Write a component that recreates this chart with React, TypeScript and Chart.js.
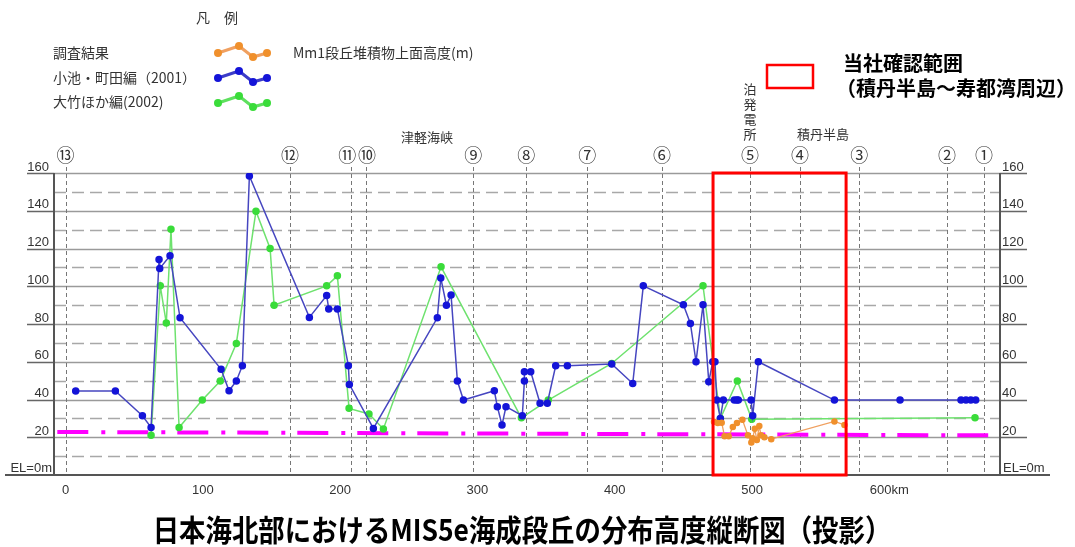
import React, { useEffect, useRef } from "react";
import { Chart, registerables } from "chart.js";
Chart.register(...registerables);

// ---- axis ranges / ticks ----
const kmMin = -8.4;
const kmMax = 680.6;
const elevMin = 0;
const elevMax = 160;
const kmTicks = [0, 100, 200, 300, 400, 500, 600];
const kmTickLabels = ["0", "100", "200", "300", "400", "500", "600km"];
const elevMajor = [20, 40, 60, 80, 100, 120, 140, 160];
const elevMinor = [10, 30, 50, 70, 90, 110, 130, 150];

// ---- sections ----
const sectionKm = [0, 163.5, 208, 218.6, 297, 335.5, 380, 434.5, 498.5, 535, 578, 642, 669];
const sectionLabelKm = [0, 163.5, 205.2, 219.5, 297, 335.5, 380, 434.5, 498.5, 535, 578, 642, 669];
const sectionLabels = ["⑬", "⑫", "⑪", "⑩", "⑨", "⑧", "⑦", "⑥", "⑤", "④", "③", "②", "①"];

// ---- 調査結果 (Mm1段丘堆積物上面高度) ----
const surveyKm = [472.3, 475, 477.9, 480, 483, 486, 489, 493, 497, 499.5, 500.5, 502, 503.5, 505.3, 506.5, 509, 514, 560, 567.3];
const surveyElev = [28.2, 27.5, 27.7, 20.5, 20.5, 25.4, 27.5, 29.3, 21, 17.2, 19.5, 24.5, 18.5, 26, 21, 20, 19, 28.4, 26.5];

// ---- 小池・町田編 (2001) ----
const koikeKm = [7.4, 36.3, 56, 62.3, 68.1, 68.6, 76.1, 83.4, 113.3, 119.1, 124.4, 128.8, 133.9, 177.6, 190.2, 191.7, 198, 206, 206.7, 224.2, 270.8, 273.3, 277.4, 280.8, 285.4, 289.8, 312.3, 314.5, 317.9, 320.8, 332.7, 334.2, 334.2, 338.8, 345.6, 350.9, 357, 365.5, 397.8, 413.1, 420.8, 450, 455.1, 459.2, 464.3, 468.5, 471.4, 473, 474.3, 476.9, 479.1, 487.1, 488.9, 490, 499.3, 500.5, 504.6, 560, 607.8, 652.2, 655.8, 659.3, 662.9];
const koikeElev = [44.5, 44.5, 31.4, 25.2, 114.2, 109.4, 116.1, 83.3, 56, 44.6, 49.8, 57.9, 158.4, 83.5, 95.1, 88, 88, 57.9, 48, 24.7, 83.3, 104.4, 90, 95.3, 49.8, 39.7, 44.6, 36.2, 26.5, 36.2, 31.4, 49.8, 54.7, 54.7, 38, 38, 57.9, 57.9, 58.8, 48.5, 100.2, 90.2, 80.3, 60, 90.2, 49.4, 60, 60, 39.7, 30, 39.7, 39.7, 39.7, 39.7, 39.7, 31.4, 60, 39.7, 39.7, 39.7, 39.7, 39.7, 39.7];

// ---- 大竹ほか編 (2002) ----
const otakeKm = [62.3, 69, 73.4, 76.8, 82.7, 99.6, 112.7, 124.4, 138.7, 149, 151.9, 190.2, 198, 206.5, 221, 231.5, 273.5, 332, 351.6, 397.8, 464.3, 477, 489.3, 499.8, 662.4];
const otakeElev = [21, 100.2, 80.5, 130.2, 25.2, 39.7, 49.8, 69.7, 139.8, 120, 90, 100.2, 105.5, 35.3, 32.3, 24.4, 110.3, 30.3, 39.7, 59.1, 100.2, 30, 49.8, 29.6, 30.3];

// ---- MIS5e reference line (magenta) ----
const refKm = [-6, 672];
const refElev = [22.8, 21.0];

// ---- 当社確認範囲 ----
const focusKm = [471.6, 568.5];

const toXY = (xs: number[], ys: number[]) => xs.map((x, i) => ({ x, y: ys[i] }));

const JP = "'Noto Sans CJK JP', sans-serif";
const NUM = "'Liberation Sans', Arial, sans-serif";

const decor = {
  id: "decor",
  beforeDatasetsDraw(chart: any) {
    const { ctx, chartArea: a, scales } = chart;
    const x = scales.x;
    const y = scales.y;
    ctx.save();
    // minor dashed horizontal
    ctx.strokeStyle = "#a8a8a8";
    ctx.lineWidth = 1.5;
    ctx.setLineDash([12, 6]);
    elevMinor.forEach((v) => {
      const py = Math.round(y.getPixelForValue(v)) + 0.5;
      ctx.beginPath();
      ctx.moveTo(a.left, py);
      ctx.lineTo(a.right, py);
      ctx.stroke();
    });
    // major solid horizontal
    ctx.setLineDash([]);
    ctx.strokeStyle = "#9a9a9a";
    ctx.lineWidth = 1.5;
    elevMajor.forEach((v) => {
      const py = Math.round(y.getPixelForValue(v)) + 0.5;
      ctx.beginPath();
      ctx.moveTo(a.left, py);
      ctx.lineTo(a.right, py);
      ctx.stroke();
    });
    // ticks outside left/right
    ctx.strokeStyle = "#666";
    ctx.lineWidth = 1.5;
    elevMajor.forEach((v) => {
      const py = Math.round(y.getPixelForValue(v)) + 0.5;
      ctx.beginPath();
      ctx.moveTo(27, py);
      ctx.lineTo(a.left, py);
      ctx.moveTo(a.right, py);
      ctx.lineTo(1027, py);
      ctx.stroke();
    });
    // vertical section lines
    ctx.strokeStyle = "#777";
    ctx.lineWidth = 1;
    ctx.setLineDash([4, 3]);
    sectionKm.forEach((k) => {
      const px = Math.round(x.getPixelForValue(k)) + 0.5;
      ctx.beginPath();
      ctx.moveTo(px, a.top - 6);
      ctx.lineTo(px, a.bottom);
      ctx.stroke();
    });
    ctx.setLineDash([]);
    // axes
    ctx.strokeStyle = "#555";
    ctx.lineWidth = 2;
    ctx.beginPath();
    ctx.moveTo(a.left, a.top);
    ctx.lineTo(a.left, a.bottom);
    ctx.moveTo(a.right, a.top);
    ctx.lineTo(a.right, a.bottom);
    ctx.moveTo(5, a.bottom);
    ctx.lineTo(1050, a.bottom);
    ctx.stroke();
    ctx.restore();
  },
  afterDatasetsDraw(chart: any) {
    const { ctx, chartArea: a, scales } = chart;
    const x = scales.x;
    const y = scales.y;
    ctx.save();
    // red range box
    ctx.strokeStyle = "#ff0000";
    ctx.lineWidth = 3;
    const rx0 = x.getPixelForValue(focusKm[0]);
    const rx1 = x.getPixelForValue(focusKm[1]);
    const ry0 = y.getPixelForValue(elevMax);
    const ry1 = y.getPixelForValue(elevMin);
    ctx.strokeRect(rx0, ry0, rx1 - rx0, ry1 - ry0);

    // axis labels
    ctx.fillStyle = "#333";
    ctx.font = `13px ${NUM}`;
    ctx.textBaseline = "alphabetic";
    elevMajor.forEach((v) => {
      const py = y.getPixelForValue(v);
      ctx.textAlign = "right";
      ctx.fillText(String(v), 49, py - 2.5);
      ctx.textAlign = "left";
      ctx.fillText(String(v), 1002, py - 2.5);
    });
    ctx.textAlign = "right";
    ctx.fillText("EL=0m", 52, a.bottom - 3);
    ctx.textAlign = "left";
    ctx.fillText("EL=0m", 1003, a.bottom - 3);
    ctx.textAlign = "center";
    ctx.textBaseline = "middle";
    kmTicks.forEach((k, i) => {
      ctx.fillText(kmTickLabels[i], x.getPixelForValue(k), 490);
    });

    // section labels
    ctx.font = `18px ${JP}`;
    ctx.fillStyle = "#333";
    sectionLabelKm.forEach((k, i) => {
      ctx.fillText(sectionLabels[i], x.getPixelForValue(k), 155);
    });

    // place names
    ctx.font = `13px ${JP}`;
    ctx.fillText("津軽海峡", 427, 137);
    ctx.fillText("積丹半島", 823, 134);
    ["泊", "発", "電", "所"].forEach((c, i) => {
      ctx.fillText(c, 750, 89 + i * 15);
    });

    // legend
    ctx.font = `14px ${JP}`;
    ctx.fillText("凡　例", 217, 18);
    ctx.textAlign = "left";
    ctx.fillText("調査結果", 53, 53);
    ctx.fillText("小池・町田編（2001）", 53, 78);
    ctx.fillText("大竹ほか編(2002)", 53, 102);
    ctx.fillText("Mm1段丘堆積物上面高度(m)", 293, 53);
    const samples = [
      { c: "#f0902c", l: "#f0a060", y0: 53 },
      { c: "#1414d8", l: "#3c3cc8", y0: 78 },
      { c: "#3adc3a", l: "#5ee05e", y0: 103 },
    ];
    samples.forEach((s) => {
      const pts = [
        [218, s.y0],
        [239, s.y0 - 7],
        [253, s.y0 + 4],
        [267, s.y0],
      ];
      ctx.strokeStyle = s.l;
      ctx.lineWidth = 3;
      ctx.beginPath();
      pts.forEach((p, i) => (i ? ctx.lineTo(p[0], p[1]) : ctx.moveTo(p[0], p[1])));
      ctx.stroke();
      ctx.fillStyle = s.c;
      pts.forEach((p) => {
        ctx.beginPath();
        ctx.arc(p[0], p[1], 4, 0, Math.PI * 2);
        ctx.fill();
      });
    });

    // red legend box
    ctx.strokeStyle = "#ff0000";
    ctx.lineWidth = 2.5;
    ctx.strokeRect(767, 65, 46, 23);
    ctx.fillStyle = "#000";
    ctx.font = `bold 20px ${JP}`;
    ctx.textAlign = "left";
    ctx.fillText("当社確認範囲", 843, 63);
    ctx.fillText("（積丹半島～寿都湾周辺）", 836, 88);

    // title (condensed bold)
    ctx.save();
    ctx.translate(522, 530);
    ctx.scale(0.88, 1);
    ctx.textAlign = "center";
    ctx.font = `bold 30px ${JP}`;
    ctx.fillText("日本海北部におけるMIS5e海成段丘の分布高度縦断図（投影）", 0, 0);
    ctx.restore();
    ctx.restore();
  },
};

export default function App() {
  const ref = useRef<HTMLCanvasElement | null>(null);
  useEffect(() => {
    if (!ref.current) return;
    const chart = new Chart(ref.current, {
      type: "line",
      data: {
        datasets: [
          {
            label: "調査結果",
            data: toXY(surveyKm, surveyElev),
            borderColor: "#f0a060",
            backgroundColor: "#f0902c",
            pointBackgroundColor: "#f0902c",
            pointBorderColor: "#f0902c",
            borderWidth: 1.3,
            pointRadius: 2.6,
            tension: 0,
          },
          {
            label: "小池・町田編（2001）",
            data: toXY(koikeKm, koikeElev),
            borderColor: "#4646c0",
            backgroundColor: "#1414d8",
            pointBackgroundColor: "#1414d8",
            pointBorderColor: "#1414d8",
            borderWidth: 1.5,
            pointRadius: 3,
            tension: 0,
          },
          {
            label: "大竹ほか編(2002)",
            data: toXY(otakeKm, otakeElev),
            borderColor: "#6ee26e",
            backgroundColor: "#3adc3a",
            pointBackgroundColor: "#3adc3a",
            pointBorderColor: "#3adc3a",
            borderWidth: 1.5,
            pointRadius: 3,
            tension: 0,
          },
          {
            label: "MIS5e",
            data: toXY(refKm, refElev),
            borderColor: "#ff00ff",
            borderWidth: 4,
            borderDash: [31, 13, 4, 12],
            pointRadius: 0,
            tension: 0,
          },
        ],
      },
      options: {
        animation: false,
        responsive: false,
        events: [],
        layout: { padding: { left: 54, right: 75, top: 173, bottom: 72 } },
        plugins: { legend: { display: false }, tooltip: { enabled: false }, title: { display: false } },
        scales: {
          x: { type: "linear", min: kmMin, max: kmMax, display: false },
          y: { type: "linear", min: elevMin, max: elevMax, display: false },
        },
      },
      plugins: [decor],
    });
    return () => chart.destroy();
  }, []);
  return (
    <div style={{ position: "absolute", left: 0, top: 0, width: 1075, height: 547, background: "#fff" }}>
      <canvas ref={ref} width={1075} height={547} style={{ display: "block" }} />
    </div>
  );
}
